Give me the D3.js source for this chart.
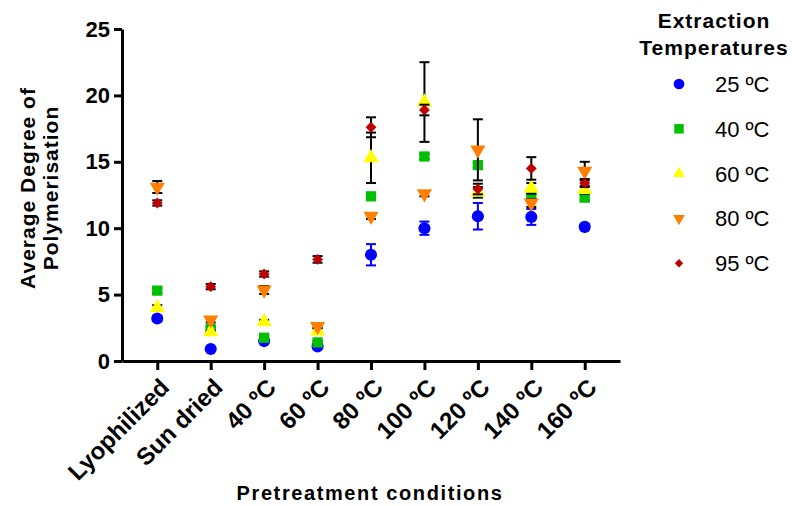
<!DOCTYPE html>
<html>
<head>
<meta charset="utf-8">
<script src="https://cdn.jsdelivr.net/npm/d3@7.9.0/dist/d3.min.js"></script>
<style>
  body { margin: 0; background: #fff; }
  svg { display: block; font-family: "Liberation Sans", Arial, sans-serif; }
</style>
</head>
<body>
<svg id="chart" width="797" height="506"></svg>
<script>
// pretreatment conditions (x categories)
const categories = ['Lyophilized', 'Sun dried', '40 ºC', '60 ºC', '80 ºC', '100 ºC', '120 ºC', '140 ºC', '160 ºC'];
const yTicks = [0, 5, 10, 15, 20, 25];

// average DP per extraction temperature, with error
const dp25 = [3.2, 0.9, 1.5, 1.1, 8.0, 10.0, 10.9, 10.85, 10.1];
const err25 = [0.15, 0.1, 0.15, 0.1, 0.8, 0.5, 1.0, 0.6, 0.2];
const dp40 = [5.3, 2.4, 1.75, 1.4, 12.4, 15.4, 14.75, 12.4, 12.3];
const err40 = [0.2, 0.2, 0.15, 0.1, 0.2, 0.2, 0.2, 0.2, 0.2];
const dp60 = [4.0, 2.2, 2.95, 2.25, 15.3, 19.5, 12.7, 13.0, 12.9];
const err60 = [0.2, 0.1, 0.15, 0.2, 1.9, 3.0, 0.4, 0.4, 0.3];
const dp80 = [13.1, 3.1, 5.35, 2.6, 10.9, 12.6, 15.9, 11.9, 14.3];
const err80 = [0.45, 0.2, 0.3, 0.1, 0.2, 0.2, 2.3, 0.3, 0.7];
const dp95 = [11.9, 5.6, 6.55, 7.65, 17.6, 18.9, 12.95, 14.5, 13.4];
const err95 = [0.2, 0.2, 0.2, 0.25, 0.75, 0.4, 0.4, 0.85, 0.3];

const seriesNames = ['25 ºC', '40 ºC', '60 ºC', '80 ºC', '95 ºC'];
const seriesColors = ['#0000ff', '#00c000', '#ffff00', '#ff8000', '#c00000'];
const errColors = ['#0000ff', '#000', '#000', '#000', '#000'];
const symbols = [d3.symbolCircle, d3.symbolSquare, d3.symbolTriangle, d3.symbolTriangle, d3.symbolDiamond2];
const symRotate = [0, 0, 0, 180, 0];
const symSize = [115, 105, 100, 100, 75];

const series = [
  { vals: dp25, errs: err25 },
  { vals: dp40, errs: err40 },
  { vals: dp60, errs: err60 },
  { vals: dp80, errs: err80 },
  { vals: dp95, errs: err95 }
];

const svg = d3.select('#chart');
const plotLeft = 122, plotRight = 620, plotTop = 29, plotBottom = 361;

const x = d3.scalePoint().domain(categories).range([plotLeft, plotRight]).padding(0.66);
const y = d3.scaleLinear().domain([0, 25]).range([plotBottom, plotTop]);

// y axis
const yAxis = svg.append('g')
  .attr('transform', `translate(${plotLeft},0)`)
  .call(d3.axisLeft(y).tickValues(yTicks).tickSize(8).tickPadding(4).tickSizeOuter(0));
yAxis.select('.domain').attr('stroke', '#000').attr('stroke-width', 3);
yAxis.selectAll('.tick line').attr('stroke', '#000').attr('stroke-width', 3);
yAxis.selectAll('.tick text')
  .attr('font-size', 22).attr('font-weight', 'bold').attr('fill', '#000')
  .attr('font-family', '"Liberation Sans", Arial, sans-serif');

// x axis
const xAxis = svg.append('g')
  .attr('transform', `translate(0,${plotBottom})`)
  .call(d3.axisBottom(x).tickSize(9).tickSizeOuter(0));
xAxis.select('.domain').attr('stroke', '#000').attr('stroke-width', 3);
xAxis.selectAll('.tick line').attr('stroke', '#000').attr('stroke-width', 3);
xAxis.selectAll('.tick text')
  .attr('font-size', 24).attr('font-weight', 'bold').attr('fill', '#000')
  .attr('font-family', '"Liberation Sans", Arial, sans-serif')
  .attr('text-anchor', 'end')
  .attr('dy', '0.35em')
  .attr('transform', 'translate(7,22) rotate(-45)')
  .attr('x', 0).attr('y', 0);

// error bars + symbols
const plot = svg.append('g');
series.forEach((s, si) => {
  const g = plot.append('g');
  s.vals.forEach((v, i) => {
    const cx = x(categories[i]);
    const e = s.errs[i];
    g.append('line')
      .attr('x1', cx).attr('x2', cx)
      .attr('y1', y(v - e)).attr('y2', y(v + e))
      .attr('stroke', errColors[si]).attr('stroke-width', 2);
    [v - e, v + e].forEach(t => {
      g.append('line')
        .attr('x1', cx - 5).attr('x2', cx + 5)
        .attr('y1', y(t)).attr('y2', y(t))
        .attr('stroke', errColors[si]).attr('stroke-width', 2);
    });
    g.append('path')
      .attr('d', d3.symbol().type(symbols[si]).size(symSize[si])())
      .attr('transform', `translate(${cx},${y(v)}) rotate(${symRotate[si]})`)
      .attr('fill', seriesColors[si]);
  });
});

// axis titles
svg.append('text')
  .attr('x', 370).attr('y', 500)
  .attr('text-anchor', 'middle')
  .attr('font-size', 20).attr('font-weight', 'bold').attr('letter-spacing', 1.6)
  .text('Pretreatment conditions');

const yt = svg.append('text')
  .attr('transform', 'translate(0,188) rotate(-90)')
  .attr('text-anchor', 'middle')
  .attr('font-size', 21).attr('font-weight', 'bold').attr('letter-spacing', 1);
yt.append('tspan').attr('x', 0).attr('y', 35).text('Average Degree of');
yt.append('tspan').attr('x', 0).attr('y', 58).text('Polymerisation');

// legend
const lg = svg.append('g');
lg.append('text').attr('x', 714).attr('y', 28).attr('text-anchor', 'middle')
  .attr('font-size', 21).attr('font-weight', 'bold').attr('letter-spacing', 1)
  .text('Extraction');
lg.append('text').attr('x', 714).attr('y', 55).attr('text-anchor', 'middle')
  .attr('font-size', 21).attr('font-weight', 'bold').attr('letter-spacing', 1)
  .text('Temperatures');

const legSize = [90, 90, 60, 60, 45];
seriesNames.forEach((name, si) => {
  const ly = 84 + si * 44.8;
  lg.append('path')
    .attr('d', d3.symbol().type(symbols[si]).size(legSize[si])())
    .attr('transform', `translate(679,${ly}) rotate(${symRotate[si]})`)
    .attr('fill', seriesColors[si]);
  lg.append('text').attr('x', 715).attr('y', ly).attr('dy', '0.36em')
    .attr('font-size', 22).text(name);
});
</script>
</body>
</html>
